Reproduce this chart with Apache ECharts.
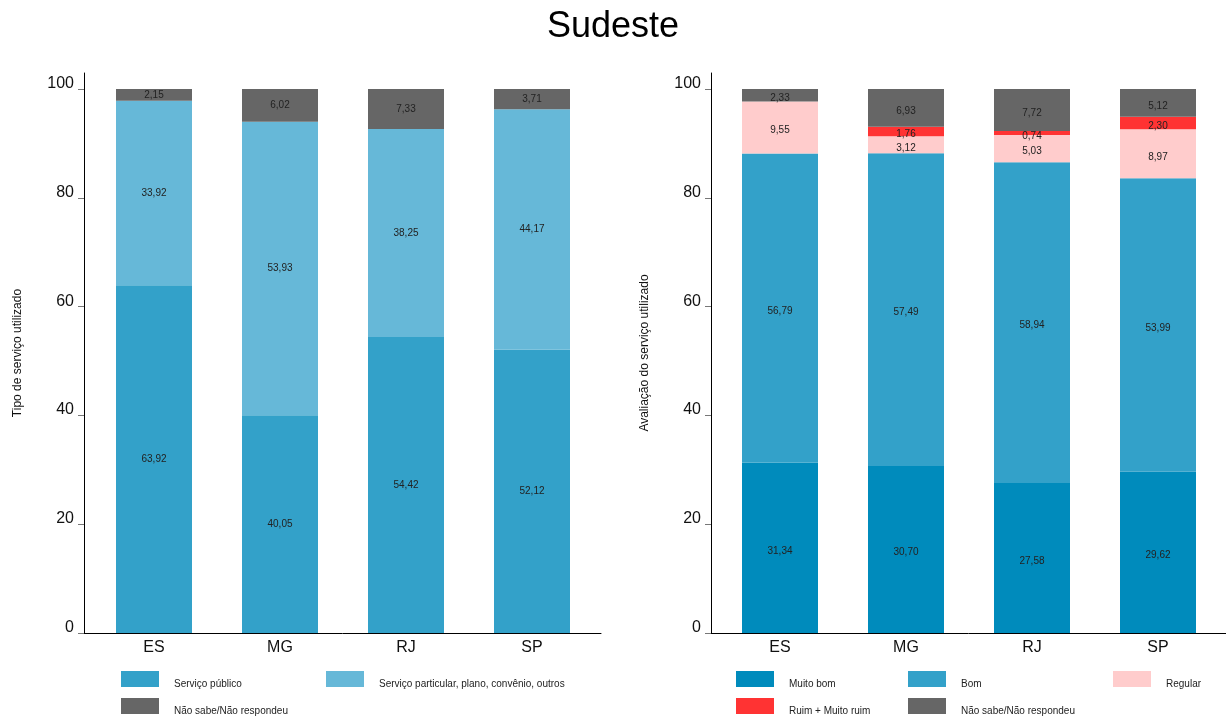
<!DOCTYPE html>
<html>
<head>
<meta charset="utf-8">
<script src="https://cdn.jsdelivr.net/npm/echarts@6/dist/echarts.min.js"></script>
<style>
html,body{margin:0;padding:0;background:#fff;}
#chart{width:1226px;height:718px;}
</style>
</head>
<body>
<div id="chart"></div>
<script>
const title = 'Sudeste';
const categories = ['ES', 'MG', 'RJ', 'SP'];
const yTicks = [0, 20, 40, 60, 80, 100];

// Left chart: Tipo de serviço utilizado
const leftAxisName = 'Tipo de serviço utilizado';
const leftNames = ['Serviço público', 'Serviço particular, plano, convênio, outros', 'Não sabe/Não respondeu'];
const publico = [63.92, 40.05, 54.42, 52.12];
const particular = [33.92, 53.93, 38.25, 44.17];
const naoSabeL = [2.15, 6.02, 7.33, 3.71];

// Right chart: Avaliação do serviço utilizado
const rightAxisName = 'Avaliação do serviço utilizado';
const rightNames = ['Muito bom', 'Bom', 'Regular', 'Ruim + Muito ruim', 'Não sabe/Não respondeu'];
const muitoBom = [31.34, 30.70, 27.58, 29.62];
const bom = [56.79, 57.49, 58.94, 53.99];
const regular = [9.55, 3.12, 5.03, 8.97];
const ruim = [0, 1.76, 0.74, 2.30];
const naoSabeR = [2.33, 6.93, 7.72, 5.12];

const FONT = '"Liberation Sans", Arial, sans-serif';
const colorsL = ['#33a1c9', '#66b8d8', '#666666'];
const colorsR = ['#008bbc', '#33a1c9', '#ffcccc', '#ff3333', '#666666'];

const fmt = p => (p.value ? p.value.toFixed(2).replace('.', ',') : '');

function bar(name, data, color, idx, stack, dy) {
  return {
    type: 'bar', name, data, stack, xAxisIndex: idx, yAxisIndex: idx,
    barWidth: 76,
    itemStyle: { color },
    label: { show: true, position: 'inside', offset: [0, dy], formatter: fmt, fontSize: 10, color: '#222', fontFamily: FONT },
    emphasis: { disabled: true }
  };
}

function legendItem(name, left, top) {
  return {
    data: [name], left, top, padding: 0, orient: 'horizontal',
    icon: 'rect', itemWidth: 38, itemHeight: 16,
    selectedMode: false,
    formatter: n => '{t|' + n + '}',
    textStyle: {
      fontSize: 10, color: '#222', fontFamily: FONT,
      rich: { t: { fontSize: 10, color: '#222', fontFamily: FONT, padding: [10, 0, 0, 10] } }
    }
  };
}

function yBars(offset) {
  return {
    type: 'value', min: yTicks[0], max: yTicks[yTicks.length - 1], interval: yTicks[1] - yTicks[0],
    offset,
    axisLine: { show: false },
    axisTick: { show: true, length: 6, lineStyle: { color: '#777' } },
    axisLabel: { fontSize: 16, color: '#111', fontFamily: FONT, margin: 10, verticalAlign: 'bottom', lineHeight: 11 },
    splitLine: { show: false }
  };
}
function xBars() {
  return {
    type: 'category', data: categories,
    axisLine: { show: false }, axisTick: { show: false },
    axisLabel: { fontSize: 16, color: '#111', fontFamily: FONT, margin: 7 }
  };
}
function xFrame() {
  return { type: 'value', min: 0, max: 1, axisLine: { show: true, lineStyle: { color: '#000', width: 1 } },
    axisTick: { show: false }, axisLabel: { show: false }, splitLine: { show: false } };
}
function yFrame(name) {
  return { type: 'value', min: 0, max: 1, name, nameLocation: 'middle', nameGap: 60, nameRotate: 90,
    nameTextStyle: { fontSize: 12, color: '#111', fontFamily: FONT },
    axisLine: { show: true, lineStyle: { color: '#000', width: 1 } },
    axisTick: { show: false }, axisLabel: { show: false }, splitLine: { show: false } };
}

const option = {
  backgroundColor: '#fff',
  animation: false,
  title: { text: title, left: 'center', top: 4, textStyle: { fontSize: 36, fontWeight: 'normal', color: '#000', fontFamily: FONT } },
  grid: [
    { left: 91, width: 504, top: 89, height: 544 },
    { left: 717, width: 504, top: 89, height: 544 },
    { left: 84, width: 517, top: 73, height: 560 },
    { left: 711, right: 0, top: 73, height: 560 }
  ],
  xAxis: [
    Object.assign(xBars(), { gridIndex: 0 }),
    Object.assign(xBars(), { gridIndex: 1 }),
    Object.assign(xFrame(), { gridIndex: 2 }),
    Object.assign(xFrame(), { gridIndex: 3 })
  ],
  yAxis: [
    Object.assign(yBars(7), { gridIndex: 0 }),
    Object.assign(yBars(6), { gridIndex: 1 }),
    Object.assign(yFrame(leftAxisName), { gridIndex: 2 }),
    Object.assign(yFrame(rightAxisName), { gridIndex: 3 })
  ],
  legend: [
    legendItem(leftNames[0], 121, 671),
    legendItem(leftNames[1], 326, 671),
    legendItem(leftNames[2], 121, 698),
    legendItem(rightNames[0], 736, 671),
    legendItem(rightNames[1], 908, 671),
    legendItem(rightNames[2], 1113, 671),
    legendItem(rightNames[3], 736, 698),
    legendItem(rightNames[4], 908, 698)
  ],
  series: [
    bar(leftNames[0], publico, colorsL[0], 0, 'L', 0),
    bar(leftNames[1], particular, colorsL[1], 0, 'L', 0),
    bar(leftNames[2], naoSabeL, colorsL[2], 0, 'L', 0),
    bar(rightNames[0], muitoBom, colorsR[0], 1, 'R', 3),
    bar(rightNames[1], bom, colorsR[1], 1, 'R', 3),
    bar(rightNames[2], regular, colorsR[2], 1, 'R', 3),
    bar(rightNames[3], ruim, colorsR[3], 1, 'R', 3),
    bar(rightNames[4], naoSabeR, colorsR[4], 1, 'R', 3)
  ]
};

const chart = echarts.init(document.getElementById('chart'), null, { renderer: 'canvas' });
chart.setOption(option);
</script>
</body>
</html>
